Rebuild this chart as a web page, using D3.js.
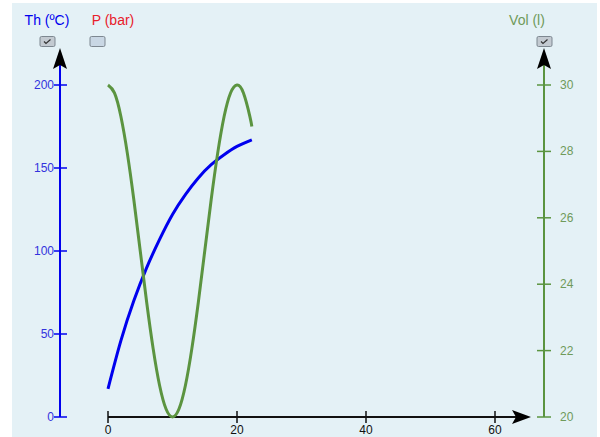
<!DOCTYPE html>
<html><head><meta charset="utf-8">
<script src="https://cdn.jsdelivr.net/npm/d3@7"></script>
<style>body{margin:0;background:#fff}svg{display:block;font-family:Arial,"Liberation Sans",sans-serif}</style>
</head><body>
<script>
// data
const tempTime = [0, 2, 4, 6, 8, 10, 12, 14, 16, 18, 20, 22.3];
const tempValues = [17, 46, 70, 90, 107, 122, 134, 144, 152, 158, 163, 167];
const volTime = [0, 1, 2, 3, 4, 5, 6, 7, 8, 9, 10, 11, 12, 13, 14, 15, 16, 17, 18, 19, 20, 21, 22, 22.3];
const volValues = [30, 29.76, 29.05, 27.94, 26.55, 25.0, 23.45, 22.06, 20.95, 20.24, 20.0, 20.24, 20.95, 22.06, 23.45, 25.0, 26.55, 27.94, 29.05, 29.76, 30.0, 29.76, 29.05, 28.75];
const xTicks = [0, 20, 40, 60];
const tempTicks = [0, 50, 100, 150, 200];
const volTicks = [20, 22, 24, 26, 28, 30];
const axisTitles = ["Th (ºC)", "P (bar)", "Vol (l)"];

const W = 600, H = 437;
const svg = d3.select("body").append("svg").attr("width", W).attr("height", H);
svg.append("rect").attr("x", 12).attr("y", 3).attr("width", 585).attr("height", 434).attr("fill", "#e4f1f6");

const x = d3.scaleLinear().domain([0, 60]).range([108, 495]);
const yT = d3.scaleLinear().domain([0, 200]).range([417, 85]);
const yV = d3.scaleLinear().domain([20, 30]).range([417, 85]);

const blue = "#0000ee", green = "#5b9440", greenText = "#6f9a5a";

// x axis
const gx = svg.append("g").attr("transform", "translate(0,417)");
gx.append("line").attr("x1", 108).attr("x2", 518).attr("stroke", "#111").attr("stroke-width", 2);
gx.append("path").attr("d", "M531,0 L512,-7 L516,0 L512,7 Z").attr("fill", "#000");
gx.selectAll(".xt").data(xTicks).join("line").attr("x1", d => x(d)).attr("x2", d => x(d))
  .attr("y1", -6).attr("y2", 6).attr("stroke", "#111").attr("stroke-width", 1.5);
gx.selectAll(".xl").data(xTicks).join("text").attr("x", d => x(d)).attr("y", 16.5)
  .attr("text-anchor", "middle").attr("font-size", 12).attr("fill", "#111").text(d => d);

// left axis
const gl = svg.append("g");
gl.append("line").attr("x1", 60).attr("x2", 60).attr("y1", 417).attr("y2", 62).attr("stroke", blue).attr("stroke-width", 2);
gl.append("path").attr("d", "M60,48 L53,69 L60,65 L67,69 Z").attr("fill", "#000");
gl.selectAll(".lt").data(tempTicks).join("line").attr("x1", 54).attr("x2", 67)
  .attr("y1", d => yT(d)).attr("y2", d => yT(d)).attr("stroke", blue).attr("stroke-width", 1.5);
gl.selectAll(".ll").data(tempTicks).join("text").attr("x", 54).attr("y", d => yT(d) + 4)
  .attr("text-anchor", "end").attr("font-size", 12).attr("fill", "#3333dd").text(d => d);

// right axis
const gr = svg.append("g");
gr.append("line").attr("x1", 544).attr("x2", 544).attr("y1", 417).attr("y2", 62).attr("stroke", green).attr("stroke-width", 2);
gr.append("path").attr("d", "M544,48 L537,69 L544,65 L551,69 Z").attr("fill", "#000");
gr.selectAll(".rt").data(volTicks).join("line").attr("x1", 537).attr("x2", 551)
  .attr("y1", d => yV(d)).attr("y2", d => yV(d)).attr("stroke", green).attr("stroke-width", 1.5);
gr.selectAll(".rl").data(volTicks).join("text").attr("x", 560).attr("y", d => yV(d) + 4)
  .attr("text-anchor", "start").attr("font-size", 12).attr("fill", greenText).text(d => d);

// titles
const titlePos = [[47, blue], [113, "#e8202a"], [527, greenText]];
svg.selectAll(".title").data(axisTitles).join("text")
  .attr("x", (d, i) => titlePos[i][0]).attr("y", 25).attr("text-anchor", "middle")
  .attr("font-size", 14).attr("fill", (d, i) => titlePos[i][1]).text(d => d);

// checkboxes
const boxes = [[47.5, true], [97.5, false], [544.5, true]];
boxes.forEach(([cx, checked]) => {
  svg.append("rect").attr("x", cx - 7.5).attr("y", 36.5).attr("width", 15).attr("height", 10).attr("rx", 1.5)
    .attr("fill", checked ? "#c3cad1" : "#c9d7e4").attr("stroke", "#7d8790").attr("stroke-width", 1);
  if (checked) svg.append("path").attr("d", `M${cx-3.5},41.5 L${cx-1.5},43.5 L${cx+3},39.5`).attr("fill", "none").attr("stroke", "#333").attr("stroke-width", 1.2);
});

// lines
const lineT = d3.line().x((d, i) => x(tempTime[i])).y(d => yT(d)).curve(d3.curveNatural);
svg.append("path").datum(tempValues).attr("d", lineT).attr("fill", "none").attr("stroke", blue).attr("stroke-width", 3);
const lineV = d3.line().x((d, i) => x(volTime[i])).y(d => yV(d)).curve(d3.curveNatural);
svg.append("path").datum(volValues).attr("d", lineV).attr("fill", "none").attr("stroke", green).attr("stroke-width", 3);
</script>
</body></html>
